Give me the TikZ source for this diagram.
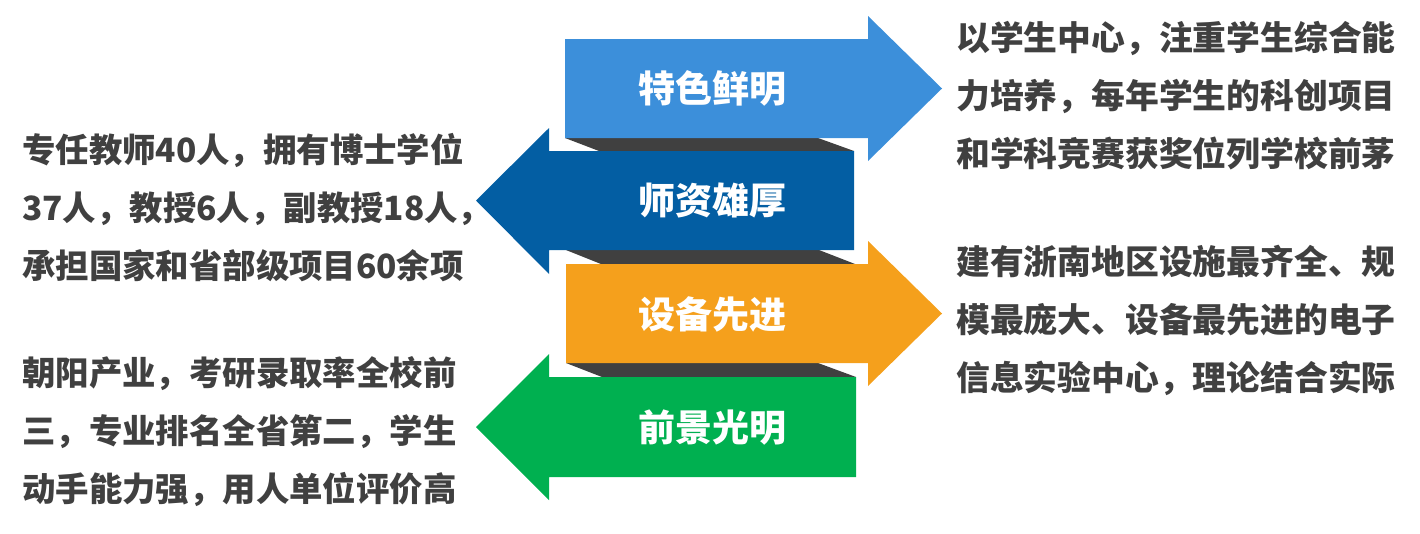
\documentclass[tikz,border=0pt]{standalone}
\usepackage{fontspec}
\newfontfamily\cjk{Noto Sans CJK SC}
\definecolor{skyblue}{HTML}{3C8FDA}
\definecolor{deepblue}{HTML}{035EA3}
\definecolor{amber}{HTML}{F5A01C}
\definecolor{leaf}{HTML}{00B050}
\definecolor{fold}{HTML}{404040}
\definecolor{ink}{HTML}{404040}

\begin{document}
\begin{tikzpicture}[x=1pt,y=-1pt,
  tag/.style={font=\cjk\bfseries\fontsize{37}{44}\selectfont,text=white,inner sep=0},
  note/.style={font=\cjk\bfseries\fontsize{33.4}{58}\selectfont,text=ink,align=left,inner sep=0,anchor=west},
  rnote/.style={note,font=\cjk\bfseries\fontsize{33.8}{58}\selectfont}]
\useasboundingbox (0,0) rectangle (1420,533);
% dark folds between the arrows
\fill[fold] (565,138) -- (818,138) -- (854,151) -- (599,151) -- cycle;
\fill[fold] (566,250) -- (819,250) -- (855,264) -- (601,264) -- cycle;
\fill[fold] (566,363) -- (818,363) -- (856,377) -- (602,377) -- cycle;
% arrows
\fill[skyblue] (565,39) -- (868,39) -- (868,16) -- (942,88.5) -- (868,161) -- (868,138) -- (565,138) -- cycle;
\fill[deepblue] (854,151) -- (549,151) -- (549,128) -- (476,200.5) -- (549,274) -- (549,250) -- (854,250) -- cycle;
\fill[amber] (566,264) -- (868,264) -- (868,241) -- (942,313.5) -- (868,386) -- (868,363) -- (566,363) -- cycle;
\fill[leaf] (856,377) -- (549,377) -- (549,354) -- (476,427) -- (549,500) -- (549,477) -- (856,477) -- cycle;
% labels
\node[tag] (tese) at (712,88) {特色鲜明};
\node[tag] (shizi) at (712,200) {师资雄厚};
\node[tag] (shebei) at (712,314) {设备先进};
\node[tag] (qianjing) at (712,428) {前景光明};
% notes
\node[rnote] (teseNote) at (956,96) {以学生中心，注重学生综合能\\力培养，每年学生的科创项目\\和学科竞赛获奖位列学校前茅};
\node[note] (shiziNote) at (22,208) {专任教师40人，拥有博士学位\\37人，教授6人，副教授18人，\\承担国家和省部级项目60余项};
\node[rnote] (shebeiNote) at (956,320) {建有浙南地区设施最齐全、规\\模最庞大、设备最先进的电子\\信息实验中心，理论结合实际};
\node[note] (qianjingNote) at (22,432) {朝阳产业，考研录取率全校前\\三，专业排名全省第二，学生\\动手能力强，用人单位评价高};
\end{tikzpicture}
\end{document}
